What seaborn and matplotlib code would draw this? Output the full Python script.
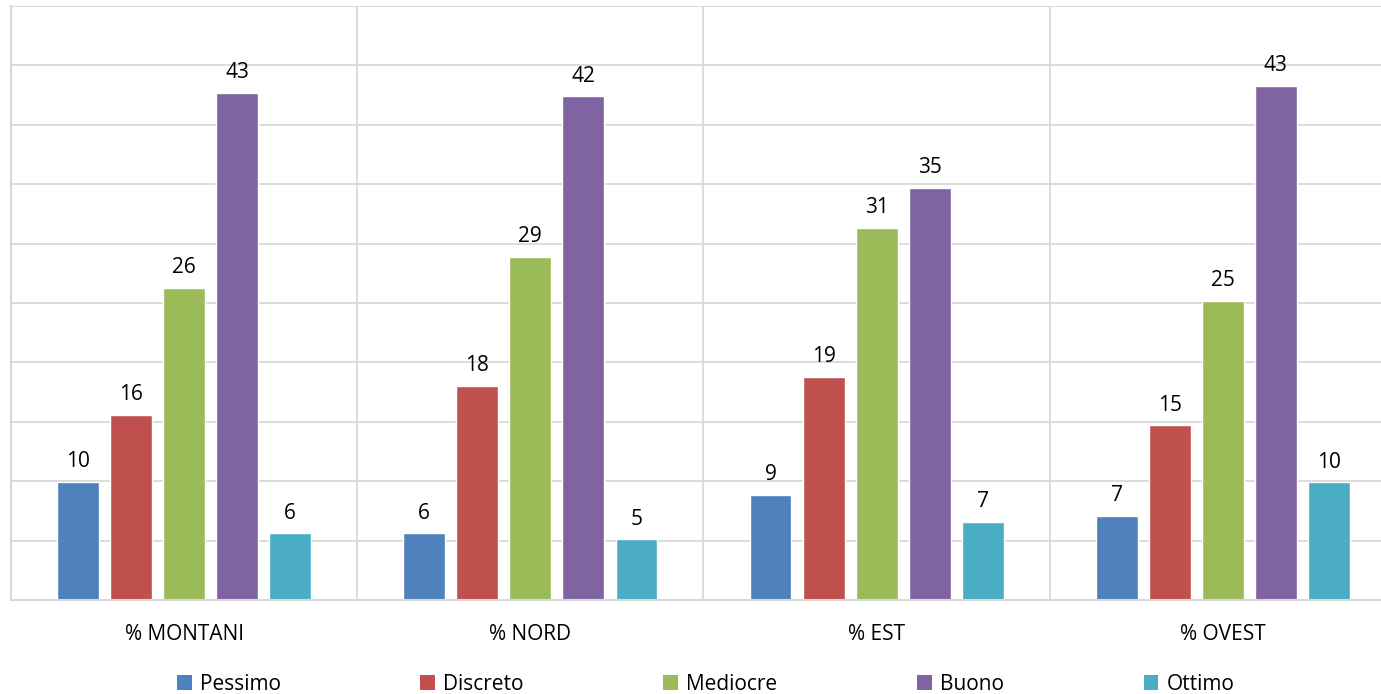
import matplotlib
matplotlib.use("Agg")
import matplotlib.pyplot as plt
from matplotlib.patches import Patch
import seaborn as sns
import pandas as pd

categories = ["% MONTANI", "% NORD", "% EST", "% OVEST"]
ratings = ["Pessimo", "Discreto", "Mediocre", "Buono", "Ottimo"]
pessimo = [9.95, 5.6, 8.85, 7.1]
discreto = [15.6, 18.0, 18.8, 14.7]
mediocre = [26.3, 28.9, 31.3, 25.2]
buono = [42.7, 42.4, 34.7, 43.3]
ottimo = [5.6, 5.1, 6.6, 9.9]
colors = ["#4F81BD", "#C0504D", "#9BBB59", "#8064A2", "#4BACC6"]

series = [pessimo, discreto, mediocre, buono, ottimo]
rows = []
for r, vals in zip(ratings, series):
    for c, v in zip(categories, vals):
        rows.append({"Categoria": c, "Giudizio": r, "Valore": v})
df = pd.DataFrame(rows)

sns.set_theme(style="white")
plt.rcParams["font.family"] = ["Open Sans", "DejaVu Sans"]
plt.rcParams["text.color"] = "black"
plt.rcParams["xtick.color"] = "black"

W, H = 1381, 694
fig = plt.figure(figsize=(W / 100, H / 100), dpi=100)
left, right, bottom, top = 11, 1396, 600, 6
ax = fig.add_axes([left / W, (H - bottom) / H, (right - left) / W, (bottom - top) / H])

sns.barplot(data=df, x="Categoria", y="Valore", hue="Giudizio", order=categories,
            hue_order=ratings, palette=colors, width=0.766, gap=0.21,
            saturation=1, ax=ax, legend=False, errorbar=None)

for cont in ax.containers:
    ax.bar_label(cont, fmt="%.0f", padding=7, fontsize=15, color="black")

ax.set_ylim(0, 50)
ax.set_xlim(-0.5, 3.5)
ax.set_yticks(range(0, 51, 5))
ax.set_yticklabels([])
ax.tick_params(axis="y", length=0)
ax.set_xticks([-0.5, 0.5, 1.5, 2.5, 3.5], minor=True)
ax.tick_params(axis="x", which="both", length=0, labelsize=15, pad=17,
               labelcolor="black")
ax.grid(axis="y", which="major", color="#d9d9d9", linewidth=1.3)
ax.grid(axis="x", which="minor", color="#d9d9d9", linewidth=1.3)
ax.grid(axis="x", which="major", visible=False)
ax.set_axisbelow(True)
ax.set_xlabel("")
ax.set_ylabel("")
for s in ["top", "right"]:
    ax.spines[s].set_visible(False)
for s in ["left", "bottom"]:
    ax.spines[s].set_color("#d9d9d9")
    ax.spines[s].set_linewidth(1.5)

handles = [Patch(facecolor=c, edgecolor="none") for c in colors]
leg = fig.legend(handles, ratings, loc="center", bbox_to_anchor=(0.511, 10 / H), ncol=5,
                 frameon=False, fontsize=15, handlelength=0.7, handleheight=0.7,
                 handletextpad=0.4, columnspacing=6.7)
for t in leg.get_texts():
    t.set_color("black")

fig.savefig("out.png", dpi=100)
